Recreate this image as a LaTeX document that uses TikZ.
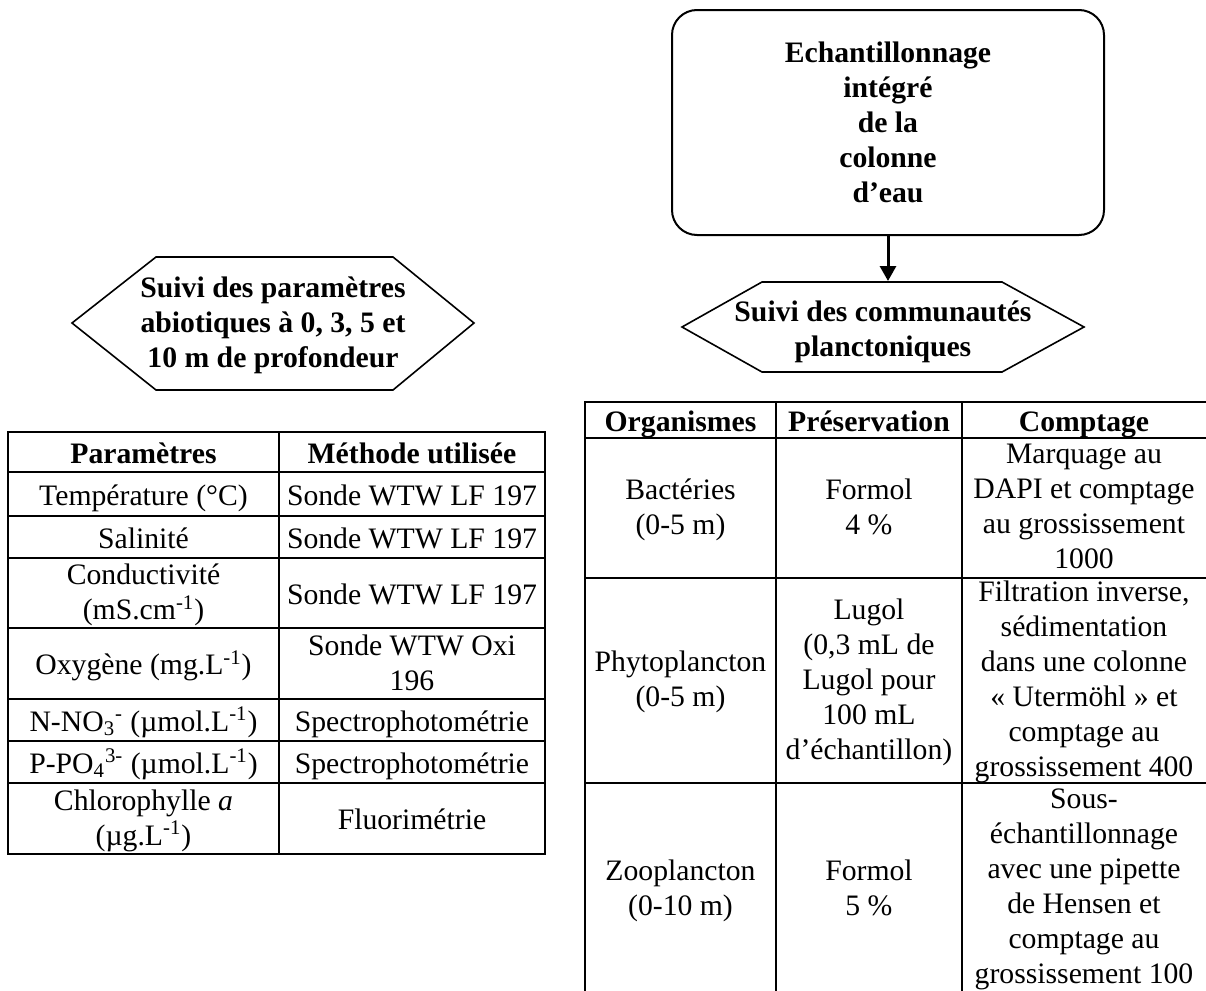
\documentclass[tikz,border=0pt]{standalone}
\usepackage{fontspec}
\setmainfont{Liberation Serif}
\usetikzlibrary{arrows.meta}
\newcommand{\cellfont}{\fontsize{14.85}{17.5}\selectfont}
\tikzset{%
cell/.style={align=center,inner sep=0pt,font=\cellfont,yshift=-2pt,
  execute at begin node=\strut,execute at end node=\strut},
headcell/.style={cell,font=\cellfont\bfseries},
tabline/.style={line width=0.9pt},
hexa/.style={line width=0.8pt,line join=miter},
samplebox/.style={draw,line width=1pt,rounded corners=12.5pt,align=center,inner sep=0pt,
  font=\cellfont\bfseries,minimum width=216pt,minimum height=112.5pt},
flow/.style={line width=1.5pt,-{Triangle[length=7.5pt,width=8pt]}}
}

\begin{document}
\begin{tikzpicture}[x=0.5pt,y=-0.5pt]
  \useasboundingbox (0,0) rectangle (1206,991);

  % echantillonnage et suivi du plancton
  \node[samplebox] (sampling) at (888,122.5) {Echantillonnage\\intégré\\de la\\colonne\\d’eau};
  \draw[hexa] (682,327) -- (762,282) -- (1002,282) -- (1084,327) -- (1002,372) -- (762,372) -- cycle;
  \node[headcell] (plankton) at (883,330) {Suivi des communautés\\planctoniques};
  \coordinate (planktontop) at (888,281);
  \draw[flow] (sampling) -- (planktontop);

  % parametres abiotiques
  \draw[hexa] (72,323) -- (156,257) -- (393,257) -- (474,323) -- (393,390) -- (156,390) -- cycle;
  \node[headcell] (abiotic) at (273,323) {Suivi des paramètres\\abiotiques à 0, 3, 5 et\\10 m de profondeur};

  % tableau des parametres
  \draw[tabline] (8,432) rectangle (545,854);
  \draw[tabline] (279,432) -- (279,854);
  \foreach \y in {472,516,558,628,699,741,783}
    \draw[tabline] (8,\y) -- (545,\y);

  \node[headcell] (param) at (143.5,452) {Paramètres};
  \node[headcell] (method) at (412,452) {Méthode utilisée};
  \node[cell] (temp) at (143.5,494) {Température (°C)};
  \node[cell] (tempm) at (412,494) {Sonde WTW LF 197};
  \node[cell] (sal) at (143.5,537) {Salinité};
  \node[cell] (salm) at (412,537) {Sonde WTW LF 197};
  \node[cell] (cond) at (143.5,593) {Conductivité\\(mS.cm\textsuperscript{-1})};
  \node[cell] (condm) at (412,593) {Sonde WTW LF 197};
  \node[cell] (oxy) at (143.5,663.5) {Oxygène (mg.L\textsuperscript{-1})};
  \node[cell] (oxym) at (412,663.5) {Sonde WTW Oxi\\196};
  \node[cell] (nitr) at (143.5,720) {N-NO\textsubscript{3}\textsuperscript{-} (µmol.L\textsuperscript{-1})};
  \node[cell] (nitrm) at (412,720) {Spectrophotométrie};
  \node[cell] (phos) at (143.5,762) {P-PO\textsubscript{4}\textsuperscript{3-} (µmol.L\textsuperscript{-1})};
  \node[cell] (phosm) at (412,762) {Spectrophotométrie};
  \node[cell] (chla) at (143.5,818.5) {Chlorophylle \textit{a}\\(µg.L\textsuperscript{-1})};
  \node[cell] (chlam) at (412,818.5) {Fluorimétrie};

  % tableau des organismes
  \draw[tabline] (585,991) -- (585,402) -- (1206,402);
  \draw[tabline] (776,402) -- (776,991);
  \draw[tabline] (962,402) -- (962,991);
  \foreach \y in {438,578,783}
    \draw[tabline] (585,\y) -- (1206,\y);

  \node[headcell] (organisms) at (680.5,420) {Organismes};
  \node[headcell] (preserve) at (869,420) {Préservation};
  \node[headcell] (count) at (1084,420) {Comptage};
  \node[cell] (bact) at (680.5,508) {Bactéries\\(0-5 m)};
  \node[cell] (bactp) at (869,508) {Formol\\4 \%};
  \node[cell] (bactc) at (1084,508) {Marquage au\\DAPI et comptage\\au grossissement\\1000};
  \node[cell] (phyto) at (680.5,680) {Phytoplancton\\(0-5 m)};
  \node[cell] (phytop) at (869,680) {Lugol\\(0,3 mL de\\Lugol pour\\100 mL\\d’échantillon)};
  \node[cell] (phytoc) at (1084,680) {Filtration inverse,\\sédimentation\\dans une colonne\\«~Utermöhl~» et\\comptage au\\grossissement 400};
  \node[cell] (zoo) at (680.5,889) {Zooplancton\\(0-10 m)};
  \node[cell] (zoop) at (869,889) {Formol\\5 \%};
  \node[cell] (zooc) at (1084,887) {Sous-\\échantillonnage\\avec une pipette\\de Hensen et\\comptage au\\grossissement 100};
\end{tikzpicture}
\end{document}
